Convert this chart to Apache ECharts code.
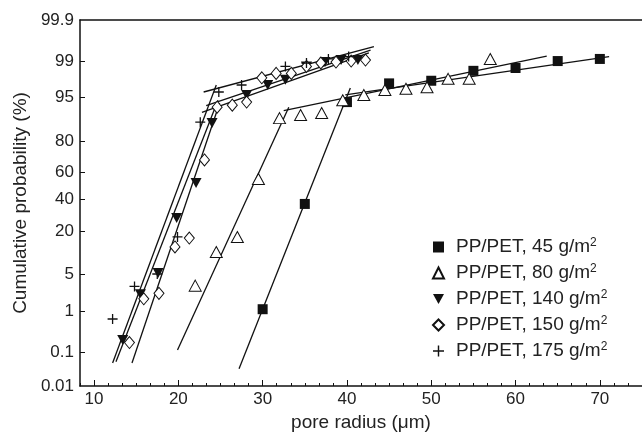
<!DOCTYPE html>
<html><head><meta charset="utf-8">
<script src="https://cdn.jsdelivr.net/npm/echarts@6/dist/echarts.min.js"></script>
<style>html,body{margin:0;padding:0;background:#fff}#c{width:642px;height:435px}</style>
</head><body><div id="c"></div>
<script>
// ---- data (x = pore radius in µm, p = cumulative probability in %) ----
const yTickLabels = ['0.01','0.1','1','5','20','40','60','80','95','99','99.9'];
const xTickLabels = [10,20,30,40,50,60,70];
const names = ['PP/PET, 45 g/m²','PP/PET, 80 g/m²','PP/PET, 140 g/m²','PP/PET, 150 g/m²','PP/PET, 175 g/m²'];

const x45 = [30,35,40,45,50,55,60,65,70];
const p45 = [1.1,37,94.1,97.2,97.5,98.4,98.6,99.0,99.1];

const x80 = [22,24.5,27,29.5,32,34.5,37,39.5,42,44.5,47,49.5,52,54.5,57];
const p80 = [3.2,11,17.2,55.3,89.7,90.7,91.3,94.5,95.5,96.3,96.5,96.7,97.7,97.7,99.1];

const x140 = [13.4,15.5,17.6,19.8,22.1,24.0,28.1,30.6,32.7,35.2,37.4,39.3,41.3];
const p140 = [0.21,2.2,5.3,27.7,52.3,88,95.5,97.0,97.6,98.7,98.95,99.05,99.05];

const x150 = [14.2,15.9,17.7,19.6,21.3,23.1,24.6,26.4,28.1,29.9,31.6,33.4,35.2,36.9,38.7,40.5,42.2];
const p150 = [0.18,1.8,2.3,12.9,16.7,68.7,92.9,93.4,94.1,97.8,98.2,98.2,98.7,98.9,98.95,99.0,99.05];

const x175 = [12.2,14.8,17.5,19.9,22.6,24.8,27.5,32.7,35.2,37.8,40.2];
const p175 = [0.67,3.1,5.1,17.2,88.3,96.0,97.0,98.7,98.9,99.1,99.2];

// fitted straight segments: [x, p%] end points
const fit45 = [[[27.2,0.034],[40.4,96.6]], [[39.8,95.5],[71.1,99.2]]];
const fit80 = [[[19.9,0.114],[33.1,92.9]], [[32.5,92.0],[63.7,99.22]]];
const fit140 = [[[12.6,0.054],[24.7,94.5]], [[23.3,93.3],[42.8,99.43]]];
const fit150 = [[[14.5,0.05],[24.9,93.9]], [[22.8,91.5],[42.6,99.34]]];
const fit175 = [[[12.2,0.05],[24.5,97.0]], [[23.0,96.0],[43.2,99.53]]];

// ---- probability (probit) scale ----
function probit(p){
  const a=[-3.969683028665376e+01,2.209460984245205e+02,-2.759285104469687e+02,1.383577518672690e+02,-3.066479806614716e+01,2.506628277459239e+00];
  const b=[-5.447609879822406e+01,1.615858368580409e+02,-1.556989798598866e+02,6.680131188771972e+01,-1.328068155288572e+01];
  const c=[-7.784894002430293e-03,-3.223964580411365e-01,-2.400758277161838e+00,-2.549732539343734e+00,4.374664141464968e+00,2.938163982698783e+00];
  const d=[7.784695709041462e-03,3.224671290700398e-01,2.445134137142996e+00,3.754408661907416e+00];
  const pl=0.02425, ph=1-pl; let q,r;
  if(p<pl){q=Math.sqrt(-2*Math.log(p));return (((((c[0]*q+c[1])*q+c[2])*q+c[3])*q+c[4])*q+c[5])/((((d[0]*q+d[1])*q+d[2])*q+d[3])*q+1);}
  if(p<=ph){q=p-0.5;r=q*q;return (((((a[0]*r+a[1])*r+a[2])*r+a[3])*r+a[4])*r+a[5])*q/(((((b[0]*r+b[1])*r+b[2])*r+b[3])*r+b[4])*r+1);}
  q=Math.sqrt(-2*Math.log(1-p));return -(((((c[0]*q+c[1])*q+c[2])*q+c[3])*q+c[4])*q+c[5])/((((d[0]*q+d[1])*q+d[2])*q+d[3])*q+1);
}
const zOf = pct => probit(pct/100);
const yTickZ = yTickLabels.map(s => zOf(parseFloat(s)));
const pts = (xs, ps) => xs.map((x,i)=>[x, zOf(ps[i])]);

const INK = '#111';
const symbols = {
  sq: 'rect',
  tri: 'triangle',
  dtri: 'path://M0,0L10,0L5,9Z',
  dia: 'diamond',
  plus: 'path://M4.35,0H5.65V4.35H10V5.65H5.65V10H4.35V5.65H0V4.35H4.35Z'
};
const groups = [
  {x:x45, p:p45, fit:fit45, sym:symbols.sq, size:10, fill:INK},
  {x:x80, p:p80, fit:fit80, sym:symbols.tri, size:[12,11], fill:'#fff'},
  {x:x140, p:p140, fit:fit140, sym:symbols.dtri, size:[11,10], fill:INK},
  {x:x150, p:p150, fit:fit150, sym:symbols.dia, size:[10,12], fill:'#fff'},
  {x:x175, p:p175, fit:fit175, sym:symbols.plus, size:10, fill:INK}
];

const series = [];
groups.forEach((g, gi) => {
  g.fit.forEach((seg, si) => {
    series.push({
      type:'line', name:'fit'+gi+'_'+si, xAxisIndex:0, yAxisIndex:0,
      data: seg.map(([x,p]) => [x, zOf(p)]),
      symbol:'none', silent:true, z:2,
      lineStyle:{color:INK, width:1.3}
    });
  });
});
groups.forEach((g, gi) => {
  series.push({
    type:'scatter', name:names[gi], xAxisIndex:0, yAxisIndex:0,
    data: pts(g.x, g.p), symbol:g.sym, symbolSize:g.size, z:3,
    itemStyle:{color:g.fill, borderColor:INK, borderWidth: g.fill==='#fff'?1:0, opacity:1}
  });
});

const font = "'Liberation Sans', Arial, sans-serif";
const chart = echarts.init(document.getElementById('c'), null, {renderer:'canvas'});
chart.setOption({
  backgroundColor:'#fff',
  animation:false,
  grid:{left:80, right:0, top:20, bottom:49, containLabel:false, outerBoundsMode:'none'},
  xAxis:[
    {type:'value', min:25/3, max:75, interval:5/3, position:'bottom',
     name:'pore radius (μm)', nameLocation:'middle', nameGap:22,
     nameTextStyle:{fontFamily:font, fontSize:19, color:'#222'},
     axisLine:{show:true, onZero:false, lineStyle:{color:INK, width:1.5}},
     axisTick:{show:true, inside:true, length:3, lineStyle:{color:INK, width:1}},
     axisLabel:{show:true, customValues:xTickLabels, margin:5, fontFamily:font, fontSize:17, color:'#222',
       formatter: v => String(Math.round(v))},
     splitLine:{show:false}},
    {type:'value', min:25/3, max:75, position:'bottom',
     axisLine:{show:false, onZero:false},
     axisTick:{show:true, inside:true, length:6, customValues:xTickLabels, lineStyle:{color:INK, width:1}},
     axisLabel:{show:false}, splitLine:{show:false}},
    {type:'value', min:25/3, max:75, position:'top',
     axisLine:{show:true, onZero:false, lineStyle:{color:INK, width:1.5}},
     axisTick:{show:false}, axisLabel:{show:false}, splitLine:{show:false}}
  ],
  yAxis:[{
    type:'value', min:zOf(0.01), max:zOf(99.9),
    name:'Cumulative probability (%)', nameLocation:'middle', nameGap:46,
    nameTextStyle:{fontFamily:font, fontSize:19, color:'#222'},
    axisLine:{show:true, onZero:false, lineStyle:{color:INK, width:1.5}},
    axisTick:{show:true, inside:true, length:5, customValues:yTickZ.slice(1,-1), lineStyle:{color:INK, width:1}},
    axisLabel:{show:true, customValues:yTickZ, margin:6, fontFamily:font, fontSize:17, color:'#222',
      formatter: v => {
        let best=0, bd=1e9;
        yTickZ.forEach((z,i)=>{const dd=Math.abs(z-v); if(dd<bd){bd=dd; best=i;}});
        return yTickLabels[best];
      }},
    splitLine:{show:false}
  }],
  legend:{
    orient:'vertical', left:427, top:232, itemGap:6, itemWidth:11, itemHeight:11,
    data: names,
    textStyle:{fontFamily:font, fontSize:19, lineHeight:20, color:'#222', padding:[0,0,0,7],
      rich:{s:{fontSize:12, verticalAlign:'top', lineHeight:20, fontFamily:font, color:'#222'}}},
    formatter: n => n.replace('²','{s|2}'),
    selectedMode:false
  },
  series: series
});
</script>
</body></html>
